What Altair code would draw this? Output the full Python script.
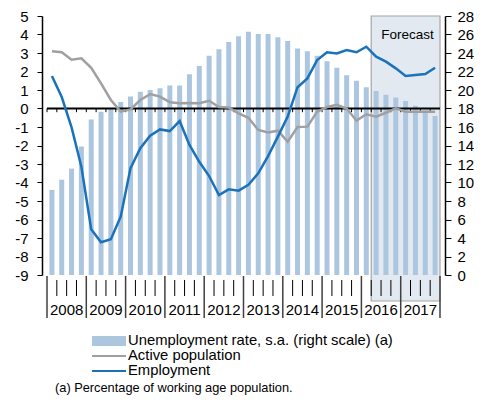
import altair as alt
import pandas as pd

years = list(range(2008, 2018))
year_labels = [str(y) for y in years]

unemployment = [9.2, 10.3, 11.5, 13.9, 16.8, 17.65, 18.0, 18.7, 19.3, 19.8,
                20.0, 20.2, 20.5, 20.5, 21.7, 22.6, 23.7, 24.4, 25.2, 25.8,
                26.3, 26.05, 26.05, 25.7, 25.3, 24.5, 24.2, 23.7, 23.1, 22.4,
                21.6, 21.0, 20.3, 19.9, 19.5, 19.2, 18.8, 18.3, 17.8, 17.2]
active_population = [3.1, 3.04, 2.64, 2.71, 2.2, 1.36, 0.46, -0.17, -0.05, 0.46,
                     0.78, 0.64, 0.34, 0.28, 0.3, 0.28, 0.42, 0.08, 0.05, -0.26,
                     -0.5, -1.16, -1.3, -1.2, -1.8, -1.0, -0.98, -0.17, 0.08, 0.2,
                     0.0, -0.65, -0.31, -0.44, -0.23, 0.01, -0.17, -0.17, -0.17, -0.17]
employment = [1.76, 0.62, -1.02, -3.15, -6.53, -7.23, -7.07, -5.85, -3.23, -2.15,
              -1.47, -1.13, -1.22, -0.68, -1.97, -2.88, -3.65, -4.68, -4.37, -4.44,
              -4.12, -3.5, -2.57, -1.52, -0.44, 1.15, 1.63, 2.62, 3.04, 2.98,
              3.16, 3.04, 3.34, 2.8, 2.53, 2.17, 1.76, 1.81, 1.86, 2.2]

forecast_start = 2016.25
forecast_end = 2018

left_ticks = list(range(-9, 6))
right_ticks = list(range(0, 29, 2))

legend_labels = ["Unemployment rate, s.a. (right scale) (a)", "Active population", "Employment"]
footnote = "(a) Percentage of working age population."

W, H = 403, 259
FONT = "Liberation Sans"
BAR_COLOR = "#adc6e0"
BLUE = "#1a72bb"
GREY = "#a0a0a0"

t = [y + (q - 0.5) / 4 for y in years for q in range(1, 5)]
df = pd.DataFrame({"t": t, "unemp": unemployment, "active": active_population, "emp": employment})
qb = pd.DataFrame({"t": [y + q / 4 for y in years for q in range(0, 4)]})
qb_inner = pd.DataFrame({"t": [y + q / 4 for y in years for q in range(1, 4)]})
yb = pd.DataFrame({"t": years + [years[-1] + 1]})
yl = pd.DataFrame({"t": [y + 0.5 for y in years], "label": year_labels})

xs = alt.Scale(domain=[2008, 2018], nice=False, zero=False)
yL = alt.Scale(domain=[-9, 5], nice=False, zero=False)
yR = alt.Scale(domain=[0, 28], nice=False, zero=False)

box = alt.Chart(pd.DataFrame({"a": [forecast_start], "b": [forecast_end]})).mark_rect(
    fill="#e3e9f1", stroke="#a6a6a6", strokeWidth=1.2
).encode(
    x=alt.X("a:Q", scale=xs, axis=None), x2="b:Q",
    y=alt.value(0), y2=alt.value(285)
)

forecast_text = alt.Chart(pd.DataFrame({"a": [forecast_start], "txt": ["Forecast"]})).mark_text(
    font=FONT, fontSize=13.5, align="left", baseline="middle", dx=10, color="#000000"
).encode(x=alt.X("a:Q", scale=xs, axis=None), y=alt.value(19), text="txt:N")

bars = alt.Chart(df).mark_bar(size=5, color=BAR_COLOR).encode(
    x=alt.X("t:Q", scale=xs, axis=None),
    y=alt.Y("unemp:Q", scale=yR, axis=alt.Axis(
        orient="right", values=right_ticks, title=None, grid=False,
        domainColor="#000000", domainWidth=1.5, tickColor="#000000", tickSize=6,
        labelPadding=6, labelFont=FONT, labelFontSize=15, labelColor="#000000",
        labelExpr="'' + datum.value")),
)

zero = alt.Chart(pd.DataFrame({"a": [2008], "b": [2018], "y": [0]})).mark_rule(
    color="#000000", strokeWidth=2
).encode(x=alt.X("a:Q", scale=xs, axis=None), x2="b:Q",
         y=alt.Y("y:Q", scale=yL, axis=None))

zero_ticks = alt.Chart(qb.assign(y0=0.0, y1=-0.2)).mark_rule(color="#000000", strokeWidth=1).encode(
    x=alt.X("t:Q", scale=xs, axis=None),
    y=alt.Y("y0:Q", scale=yL, axis=None), y2="y1:Q")

active_line = alt.Chart(df).mark_line(color=GREY, strokeWidth=2.5).encode(
    x=alt.X("t:Q", scale=xs, axis=None),
    y=alt.Y("active:Q", scale=yL, axis=alt.Axis(
        orient="left", values=left_ticks, title=None, grid=False,
        domainColor="#000000", domainWidth=1.5, tickColor="#000000", tickSize=5,
        labelPadding=9, labelFont=FONT, labelFontSize=15, labelColor="#000000",
        labelExpr="'' + datum.value")),
)

emp_line = alt.Chart(df).mark_line(color=BLUE, strokeWidth=2.5).encode(
    x=alt.X("t:Q", scale=xs, axis=None),
    y=alt.Y("emp:Q", scale=yL, axis=None),
)

qticks = alt.Chart(qb_inner).mark_rule(color="#000000", strokeWidth=1).encode(
    x=alt.X("t:Q", scale=xs, axis=None), y=alt.value(264), y2=alt.value(280))

yticks = alt.Chart(yb).mark_rule(color="#404040", strokeWidth=1.5).encode(
    x=alt.X("t:Q", scale=xs, axis=None), y=alt.value(260), y2=alt.value(302))

ylabels = alt.Chart(yl).mark_text(font=FONT, fontSize=15, baseline="middle", color="#000000").encode(
    x=alt.X("t:Q", scale=xs, axis=None), y=alt.value(294), text="label:N")

# custom legend
one = pd.DataFrame({"k": [0]})
leg_bar = alt.Chart(one).mark_rect(color=BAR_COLOR).encode(
    x=alt.value(50), x2=alt.value(84), y=alt.value(320), y2=alt.value(330))
leg_grey = alt.Chart(one).mark_rule(color=GREY, strokeWidth=2).encode(
    x=alt.value(50), x2=alt.value(84), y=alt.value(340))
leg_blue = alt.Chart(one).mark_rule(color=BLUE, strokeWidth=2).encode(
    x=alt.value(50), x2=alt.value(84), y=alt.value(355))

leg_texts = []
for label, ypos in zip(legend_labels, [325, 340, 355]):
    leg_texts.append(
        alt.Chart(pd.DataFrame({"label": [label]})).mark_text(
            font=FONT, fontSize=14.8, align="left", baseline="middle", color="#000000"
        ).encode(x=alt.value(86), y=alt.value(ypos), text="label:N")
    )

foot = alt.Chart(pd.DataFrame({"label": [footnote]})).mark_text(
    font=FONT, fontSize=12.8, align="left", baseline="middle", color="#000000"
).encode(x=alt.value(13), y=alt.value(372), text="label:N")

chart = alt.layer(
    box, bars, zero, zero_ticks, active_line, emp_line, forecast_text,
    qticks, yticks, ylabels, leg_bar, leg_grey, leg_blue, *leg_texts, foot
).resolve_scale(y="independent").properties(
    width=W, height=H,
    autosize=alt.AutoSizeParams(type="none"),
    padding={"left": 34, "top": 8, "right": 30, "bottom": 121},
).configure_view(stroke=None).configure_axis(grid=False)

chart.save("out.html", embed_options={"renderer": "svg", "actions": False})
